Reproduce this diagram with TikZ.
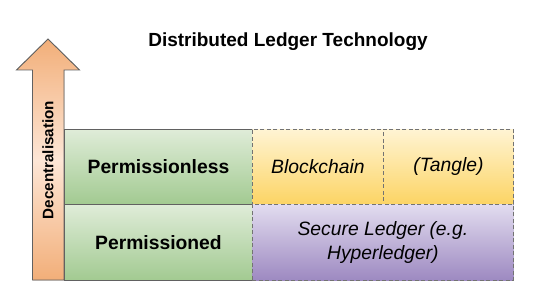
\documentclass[tikz,border=0pt]{standalone}
\usepackage{fontspec}
\setmainfont{Liberation Sans}
\begin{document}
\begin{tikzpicture}[x=1pt,y=-1pt,
  greenbox/.style={draw=black!62,line width=0.9pt,top color=greenT,bottom color=greenB},
  yellowbox/.style={draw=black!55,dash pattern=on 4pt off 2.5pt,line width=0.8pt,top color=yellowT,bottom color=yellowB},
  purplebox/.style={draw=black!55,dash pattern=on 4pt off 2.5pt,line width=0.8pt,top color=purpleT,bottom color=purpleB},
  boldlbl/.style={font=\fontsize{19.3}{22}\selectfont\bfseries},
  itlbl/.style={font=\fontsize{19.3}{24}\selectfont\itshape,align=center}
]
\definecolor{greenT}{HTML}{DFECD8}
\definecolor{greenB}{HTML}{A2CA91}
\definecolor{yellowT}{HTML}{FFF4D3}
\definecolor{yellowB}{HTML}{FCD464}
\definecolor{purpleT}{HTML}{E2DCEF}
\definecolor{purpleB}{HTML}{9D89C1}
\definecolor{orangeE}{HTML}{F2AE78}
\definecolor{orangeM}{HTML}{FDE6D6}
\useasboundingbox (0,0) rectangle (540,294);
% arrow
\begin{scope}
\path[clip] (48,39) -- (79.5,70) -- (64,70) -- (64,280) -- (32.5,280) -- (32.5,70) -- (16.5,70) -- cycle;
\fill[top color=orangeE,bottom color=orangeM] (16,38) rectangle (80,160);
\fill[top color=orangeM,bottom color=orangeE] (16,160) rectangle (80,281);
\end{scope}
\draw[draw=black!62,line width=0.9pt] (48,39) -- (79.5,70) -- (64,70) -- (64,280) -- (32.5,280) -- (32.5,70) -- (16.5,70) -- cycle;
\node[font=\fontsize{15.2}{17}\selectfont\bfseries,rotate=90] (dec) at (48,160) {Decentralisation};
% title
\node[font=\fontsize{19}{22}\selectfont\bfseries] (title) at (288,42) {Distributed Ledger Technology};
% green boxes
\node[greenbox,minimum width=188pt,minimum height=75pt,anchor=north west,inner sep=0pt] (pl) at (64,129) {};
\node[boldlbl] at (pl.center) {Permissionless};
\node[greenbox,minimum width=188pt,minimum height=76pt,anchor=north west,inner sep=0pt] (pd) at (64,204) {};
\node[boldlbl] at (pd.center) {Permissioned};
% right boxes
\node[yellowbox,minimum width=131pt,minimum height=75pt,anchor=north west,inner sep=0pt] (bc) at (252,129) {};
\node[itlbl] at (bc.center) {Blockchain};
\node[yellowbox,minimum width=130pt,minimum height=75pt,anchor=north west,inner sep=0pt] (tg) at (383,129) {};
\node[itlbl] at (tg.center) {(Tangle)};
\node[purplebox,minimum width=261pt,minimum height=76pt,anchor=north west,inner sep=0pt] (sl) at (252,204) {};
\node[itlbl] at (sl.center) {Secure Ledger (e.g.\\Hyperledger)};
\end{tikzpicture}
\end{document}
